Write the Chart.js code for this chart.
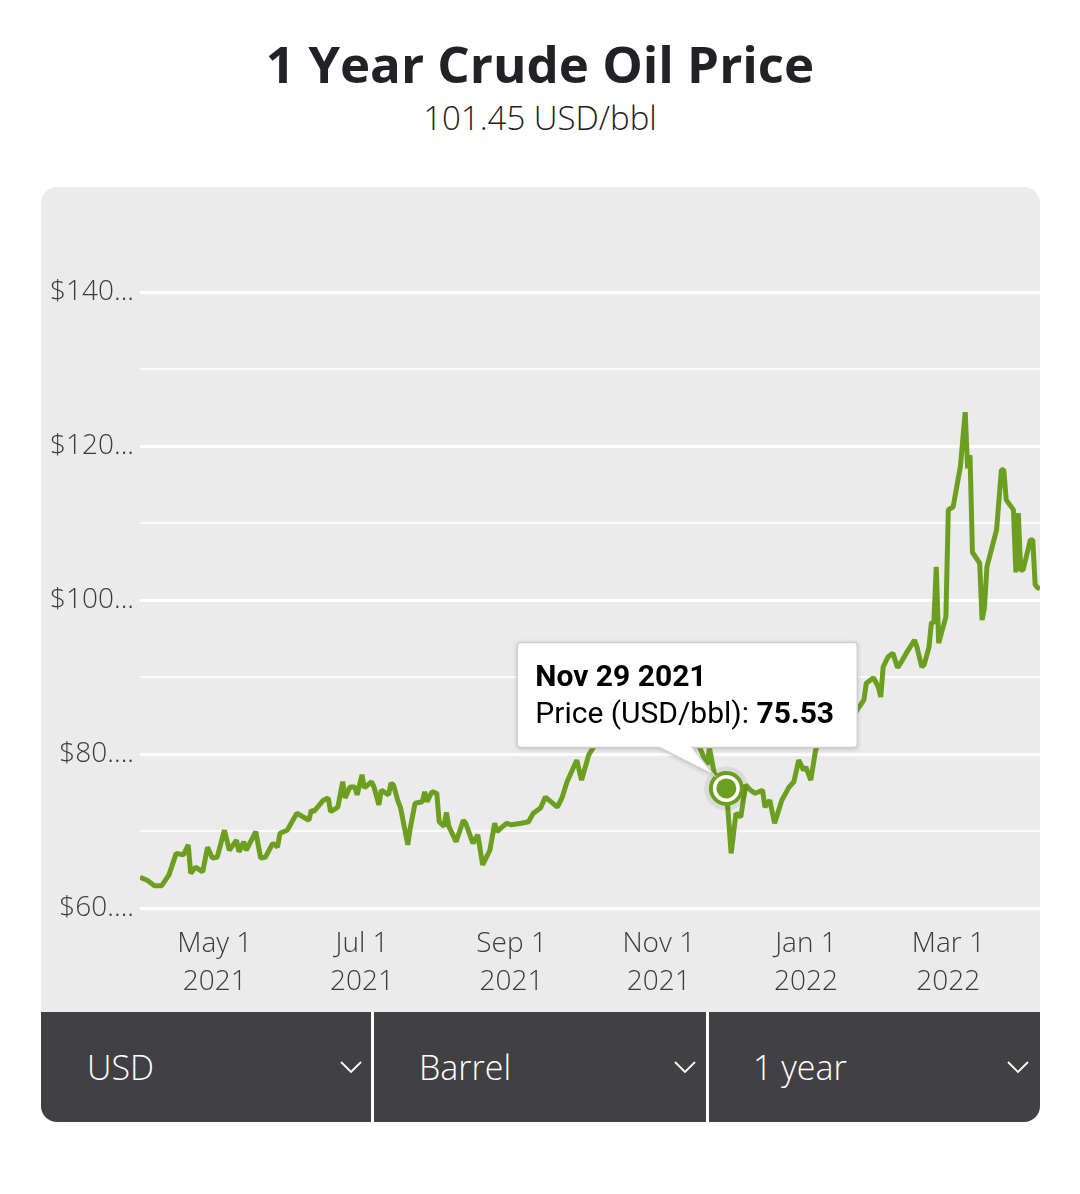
<!DOCTYPE html>
<html>
<head>
<meta charset="utf-8">
<script src="https://cdn.jsdelivr.net/npm/chart.js@4.4.0/dist/chart.umd.min.js"></script>
<style>
  html,body{margin:0;padding:0;background:#ffffff;}
  body{width:1080px;height:1194px;position:relative;overflow:hidden;font-family:"Open Sans","Noto Sans",sans-serif;}
  #title{position:absolute;left:0;top:28px;width:1080px;text-align:center;font-weight:700;font-size:51px;line-height:70px;color:#222226;}
  #sub{position:absolute;left:0;top:96px;width:1080px;text-align:center;font-weight:300;font-size:33px;line-height:44px;color:#1e1e1e;}
  #panel{position:absolute;left:41px;top:187px;width:999px;height:935px;background:#ebebeb;border-radius:16px;overflow:hidden;}
  #wrap{position:absolute;left:0;top:0;width:999px;height:825px;}
  #bar{position:absolute;left:0;top:825px;width:999px;height:110px;background:#414042;}
  .cell{position:absolute;top:0;height:110px;color:#ffffff;font-weight:300;font-size:34px;line-height:110px;}
  .cell span{position:absolute;left:46px;top:0;}
  .cell svg{position:absolute;top:49px;}
  .sep{position:absolute;top:0;width:3px;height:110px;background:#ffffff;}
</style>
</head>
<body>
<div id="title">1 Year Crude Oil Price</div>
<div id="sub">101.45 USD/bbl</div>
<div id="panel">
  <div id="wrap"><canvas id="c" width="999" height="825"></canvas></div>
  <div id="bar">
    <div class="cell" style="left:0;width:330px;"><span>USD</span><svg style="right:9px" width="22" height="12"><polyline points="1,1 11,11 21,1" fill="none" stroke="#fff" stroke-width="1.8"/></svg></div>
    <div class="sep" style="left:330px"></div>
    <div class="cell" style="left:333px;width:332px;"><span style="left:45px">Barrel</span><svg style="right:10px" width="22" height="12"><polyline points="1,1 11,11 21,1" fill="none" stroke="#fff" stroke-width="1.8"/></svg></div>
    <div class="sep" style="left:665px"></div>
    <div class="cell" style="left:668px;width:331px;"><span style="left:44px">1 year</span><svg style="right:11px" width="22" height="12"><polyline points="1,1 11,11 21,1" fill="none" stroke="#fff" stroke-width="1.8"/></svg></div>
  </div>
</div>
<script>
const dates = [
'2021-03-31','2021-04-03','2021-04-06','2021-04-09','2021-04-12','2021-04-15','2021-04-18','2021-04-20','2021-04-21','2021-04-23',
'2021-04-26','2021-04-28','2021-04-30','2021-05-02','2021-05-05','2021-05-07','2021-05-10','2021-05-11','2021-05-13','2021-05-14',
'2021-05-18','2021-05-20','2021-05-22','2021-05-25','2021-05-27','2021-05-28','2021-05-31','2021-06-04','2021-06-09','2021-06-10',
'2021-06-11','2021-06-15','2021-06-17','2021-06-18','2021-06-21','2021-06-23','2021-06-24','2021-06-26','2021-06-28','2021-06-29',
'2021-07-01','2021-07-02','2021-07-05','2021-07-06','2021-07-08','2021-07-09','2021-07-12','2021-07-13','2021-07-14','2021-07-16',
'2021-07-17','2021-07-20','2021-07-21','2021-07-23','2021-07-26','2021-07-27','2021-07-28','2021-07-30','2021-08-01','2021-08-02',
'2021-08-04','2021-08-05','2021-08-06','2021-08-09','2021-08-12','2021-08-13','2021-08-16','2021-08-18','2021-08-20','2021-08-23',
'2021-08-25','2021-08-26','2021-08-28','2021-08-30','2021-09-01','2021-09-05','2021-09-08','2021-09-10','2021-09-13','2021-09-15',
'2021-09-20','2021-09-22','2021-09-24','2021-09-28','2021-09-30','2021-10-03','2021-10-05','2021-10-07','2021-10-11','2021-10-14',
'2021-10-18','2021-10-21','2021-10-25','2021-10-28','2021-10-31','2021-11-03','2021-11-05','2021-11-09','2021-11-12','2021-11-16',
'2021-11-18','2021-11-21','2021-11-22','2021-11-24','2021-11-29','2021-12-01','2021-12-03','2021-12-05','2021-12-07','2021-12-09',
'2021-12-11','2021-12-14','2021-12-15','2021-12-17','2021-12-19','2021-12-22','2021-12-25','2021-12-27','2021-12-29','2021-12-31',
'2022-01-01','2022-01-03','2022-01-05','2022-01-07','2022-01-10','2022-01-12','2022-01-15','2022-01-17','2022-01-20','2022-01-23',
'2022-01-25','2022-01-26','2022-01-29','2022-01-31','2022-02-01','2022-02-02','2022-02-04','2022-02-06','2022-02-08','2022-02-10',
'2022-02-12','2022-02-15','2022-02-16','2022-02-18','2022-02-19','2022-02-21','2022-02-22','2022-02-23','2022-02-24','2022-02-25',
'2022-02-28','2022-03-01','2022-03-03','2022-03-06','2022-03-08','2022-03-09','2022-03-10','2022-03-11','2022-03-14','2022-03-15',
'2022-03-16','2022-03-17','2022-03-21','2022-03-23','2022-03-24','2022-03-25','2022-03-28','2022-03-29','2022-03-30','2022-03-31',
'2022-04-01','2022-04-04','2022-04-05','2022-04-06','2022-04-07','2022-04-08'
];
const prices = [
64.0,63.6,62.9,62.9,64.3,67.1,66.9,68.2,64.5,65.3,
64.7,67.9,66.5,66.6,70.1,67.5,68.8,67.3,68.6,67.5,
69.9,66.5,66.6,68.4,67.9,69.7,70.1,72.3,71.4,72.7,
72.5,74.0,74.3,72.5,73.1,76.4,74.3,75.7,75.7,74.7,
77.3,75.6,76.4,75.7,73.4,75.3,74.7,76.2,76.0,73.8,
73.0,68.2,70.4,73.6,73.8,75.1,73.8,75.1,74.9,71.2,
70.6,72.4,70.6,68.6,71.4,71.0,68.4,69.5,65.6,67.5,
71.0,69.9,70.5,71.0,70.8,71.0,71.2,72.3,73.0,74.4,
73.1,74.4,76.4,79.2,76.6,79.9,80.9,81.8,82.5,83.5,
84.5,85.0,85.5,84.0,82.5,83.0,82.0,83.0,82.0,81.5,
80.8,78.6,80.8,77.5,75.53,67.1,72.3,71.8,76.0,75.3,
74.9,75.3,73.1,74.0,71.0,74.0,75.7,76.4,79.2,77.9,
78.3,76.6,80.5,81.8,82.8,82.3,84.0,85.2,84.6,86.1,
87.0,89.2,89.9,88.7,87.4,91.3,92.6,93.1,91.2,92.2,
93.3,94.8,93.9,91.3,91.6,93.9,97.1,97.0,104.3,94.4,
97.8,111.7,112.1,117.3,124.4,117.1,118.8,106.2,104.8,97.4,
99.1,104.3,109.1,116.9,116.9,113.0,111.7,103.6,111.3,103.9,
103.9,107.8,107.8,102.0,101.6,101.45
];
const xTickDates = ['2021-05-01','2021-07-01','2021-09-01','2021-11-01','2022-01-01','2022-03-01'];
const yTickValues = [60,80,100,120,140];
const yTickLabels = ['$60....','$80....','$100...','$120...','$140...'];
const tipDate = '2021-11-29';
const seriesLabel = 'Price (USD/bbl)';

const MONTHS = ['Jan','Feb','Mar','Apr','May','Jun','Jul','Aug','Sep','Oct','Nov','Dec'];
function toDay(s){const p=s.split('-').map(Number);return Date.UTC(p[0],p[1]-1,p[2])/86400000;}
function fromDay(v){return new Date(v*86400000);}
const tipIndex = dates.indexOf(tipDate);
const points = dates.map((d,i)=>({x:toDay(d),y:prices[i]}));
const GREEN = '#6c9f1f';
const tickFont = {family:'"Open Sans","Noto Sans",sans-serif', size:28, weight:300, lineHeight:1.36};

const markerPlugin = {
  id:'marker',
  afterDatasetsDraw(chart){
    const el = chart.getDatasetMeta(0).data[tipIndex];
    const ctx = chart.ctx; const x = el.x, y = el.y;
    ctx.save();
    ctx.beginPath(); ctx.arc(x,y,22,0,Math.PI*2); ctx.fillStyle='rgba(0,0,0,0.07)'; ctx.fill();
    ctx.beginPath(); ctx.arc(x,y,17.5,0,Math.PI*2); ctx.fillStyle=GREEN; ctx.fill();
    ctx.beginPath(); ctx.arc(x,y,13.5,0,Math.PI*2); ctx.fillStyle='#ffffff'; ctx.fill();
    ctx.beginPath(); ctx.arc(x,y,10,0,Math.PI*2); ctx.fillStyle=GREEN; ctx.fill();
    ctx.restore();
  },
  afterDraw(chart){
    const el = chart.getDatasetMeta(0).data[tipIndex];
    const ctx = chart.ctx; const px = el.x, py = el.y;
    const L = px-209, T = py-146, W = 340, H = 105, r = 3;
    ctx.save();
    ctx.beginPath();
    ctx.moveTo(L+r,T); ctx.lineTo(L+W-r,T); ctx.quadraticCurveTo(L+W,T,L+W,T+r);
    ctx.lineTo(L+W,T+H-r); ctx.quadraticCurveTo(L+W,T+H,L+W-r,T+H);
    ctx.lineTo(px-34,T+H); ctx.lineTo(px-12,py-13); ctx.lineTo(px-67,T+H);
    ctx.lineTo(L+r,T+H); ctx.quadraticCurveTo(L,T+H,L,T+H-r);
    ctx.lineTo(L,T+r); ctx.quadraticCurveTo(L,T,L+r,T);
    ctx.closePath();
    ctx.shadowColor='rgba(0,0,0,0.22)'; ctx.shadowBlur=5; ctx.shadowOffsetY=1;
    ctx.fillStyle='#ffffff'; ctx.fill();
    ctx.shadowColor='transparent';
    ctx.lineWidth=1.5; ctx.strokeStyle='#cfcfcf'; ctx.stroke();
    const d = fromDay(points[tipIndex].x);
    const title = MONTHS[d.getUTCMonth()]+' '+d.getUTCDate()+' '+d.getUTCFullYear();
    ctx.fillStyle='#000000'; ctx.textBaseline='middle'; ctx.textAlign='left';
    ctx.font='bold 30px Roboto, sans-serif';
    ctx.fillText(title, L+18, T+36);
    ctx.font='30px Roboto, sans-serif';
    const body = seriesLabel+': ';
    ctx.fillText(body, L+18, T+73);
    const w = ctx.measureText(body).width;
    ctx.font='bold 30px Roboto, sans-serif';
    ctx.fillText(prices[tipIndex].toFixed(2), L+18+w, T+73);
    ctx.restore();
  }
};

new Chart(document.getElementById('c'), {
  type:'line',
  data:{datasets:[{label:seriesLabel,data:points,borderColor:GREEN,borderWidth:5,pointRadius:0,pointHoverRadius:0,tension:0,borderJoinStyle:'bevel',fill:false}]},
  options:{
    responsive:false, animation:false, events:[],
    layout:{padding:{top:28,right:0,left:0,bottom:0}},
    plugins:{legend:{display:false},tooltip:{enabled:false},title:{display:false}},
    scales:{
      x:{
        type:'linear',
        min:toDay(dates[0]), max:toDay(dates[dates.length-1]),
        afterBuildTicks(axis){axis.ticks = xTickDates.map(d=>({value:toDay(d)}));},
        afterFit(s){s.height=104;},
        grid:{display:false}, border:{display:false},
        ticks:{
          autoSkip:false, maxRotation:0, minRotation:0, padding:9, color:'#3c3c3c', font:tickFont,
          callback(v){const d=fromDay(v);return [MONTHS[d.getUTCMonth()]+' '+d.getUTCDate(), String(d.getUTCFullYear())];}
        }
      },
      y:{
        min:60, max:150,
        afterFit(s){s.width=99;},
        border:{display:false},
        grid:{
          drawTicks:false,
          color(c){const v=c.tick.value; if(v===150) return 'rgba(0,0,0,0)'; return yTickValues.includes(v)?'#ffffff':'rgba(255,255,255,0.8)';},
          lineWidth(c){return yTickValues.includes(c.tick.value)?3:2;}
        },
        ticks:{
          stepSize:10, padding:6, color:'#3c3c3c', font:tickFont,
          callback(v){const i=yTickValues.indexOf(v);return i>=0?yTickLabels[i]:'';}
        }
      }
    }
  },
  plugins:[markerPlugin]
});
</script>
</body>
</html>
